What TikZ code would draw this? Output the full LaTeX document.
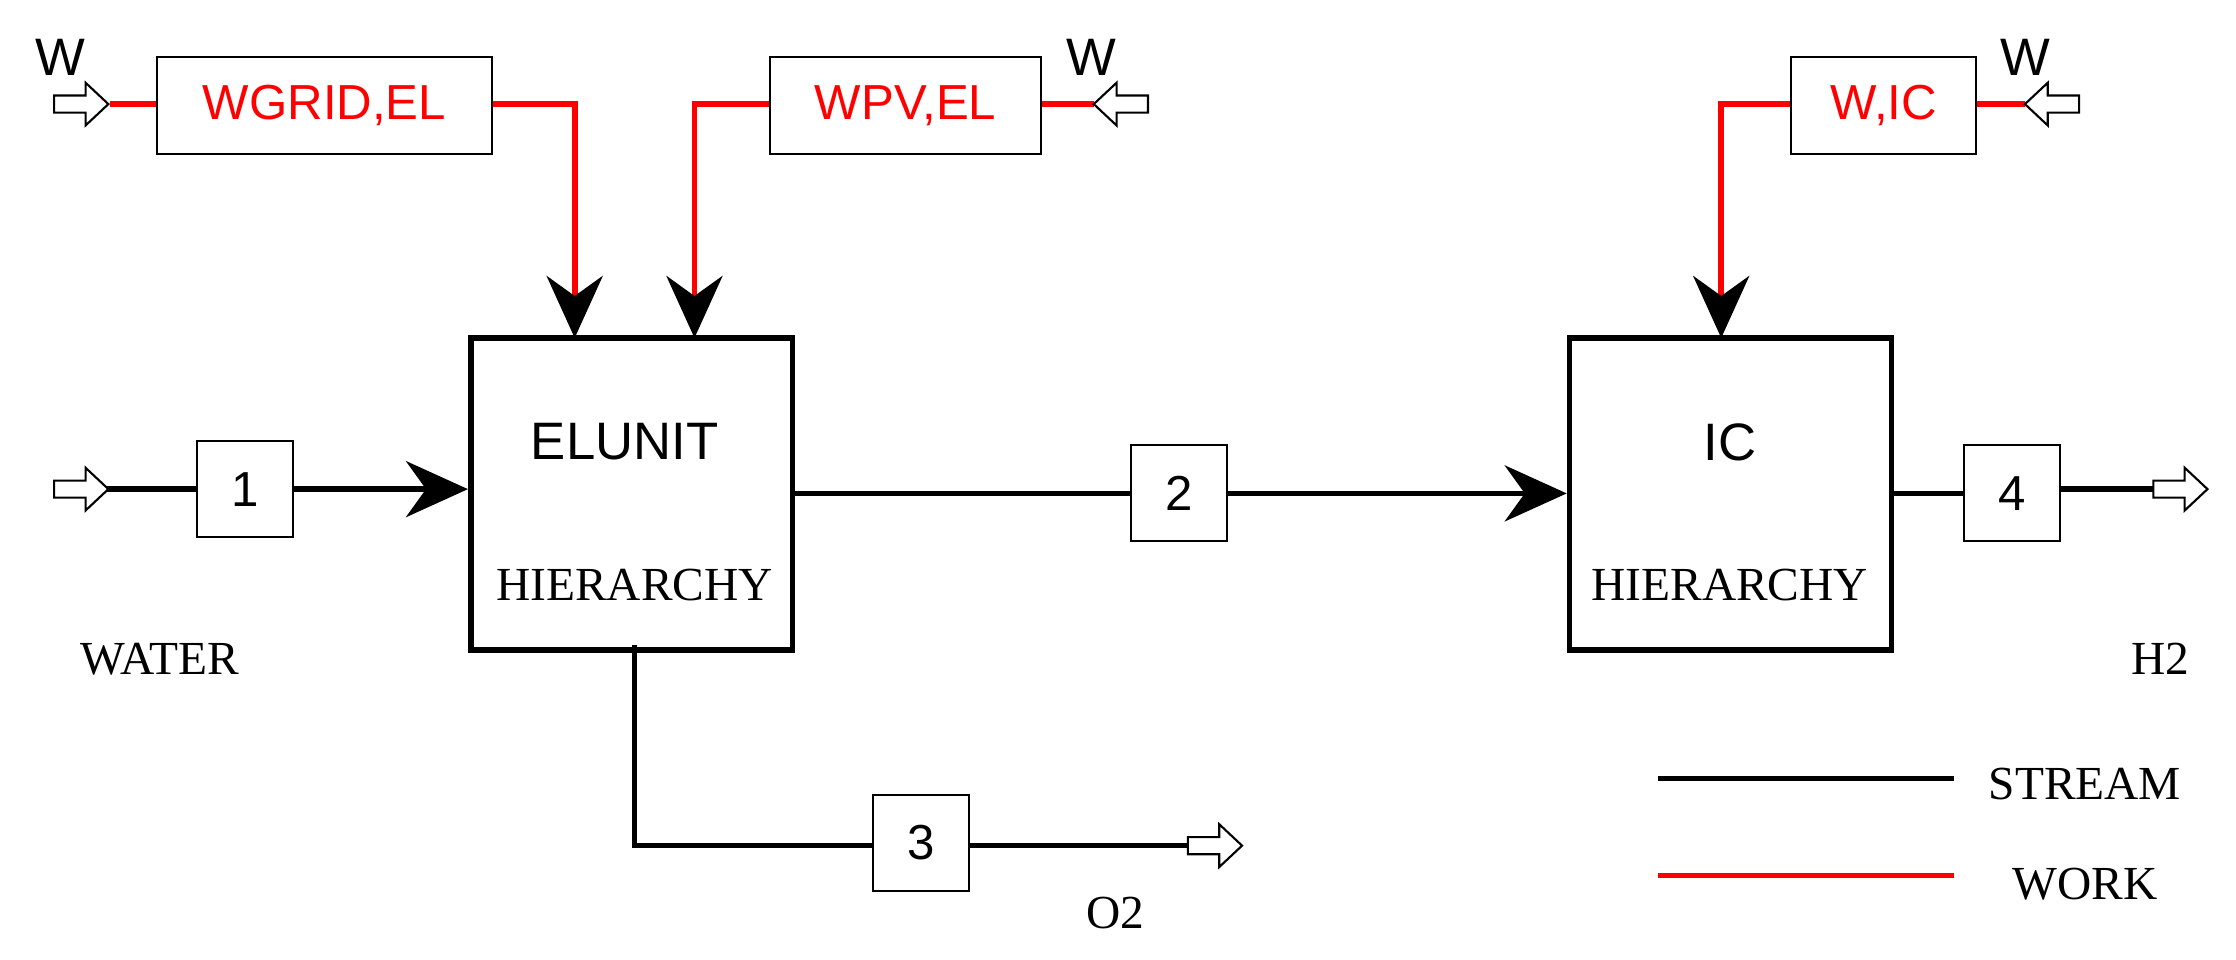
\documentclass[tikz,border=0pt]{standalone}
\usepackage{fontspec}
\setmainfont{Liberation Serif}
\newfontfamily\sansf{Liberation Sans}
\usetikzlibrary{arrows.meta}
\definecolor{wred}{RGB}{255,0,0}
\begin{document}
\begin{tikzpicture}[x=0.01426cm,y=-0.01426cm,
  unit/.style={draw,line width=1.6pt,minimum width=3.22cm,minimum height=3.12cm,inner sep=0},
  lab/.style={draw,line width=0.6pt,fill=white,font=\sansf\fontsize{14}{14}\selectfont,inner sep=0},
  sb/.style={lab,minimum width=0.96cm,minimum height=0.96cm},
  st/.style={line width=1.6pt,black},
  wk/.style={line width=1.6pt,wred},
  big/.style={-{Stealth[length=0.62cm,width=0.56cm,inset=0.2cm,black]}},
  serif/.style={font=\fontsize{13.5}{13.5}\selectfont},
  sans/.style={font=\sansf\fontsize{15}{15}\selectfont},
  oa/.pic={\draw[line width=0.6pt,fill=white] (0,-6)--(22,-6)--(22,-15)--(38,0)--(22,15)--(22,6)--(0,6)--cycle;}]
\useasboundingbox (0,0) rectangle (1568,673);
% units
\node[unit] (el) at (443,346.5) {};
\node[sans] (elt) at (438,310) {ELUNIT};
\node[serif] (elh) at (445,410) {HIERARCHY};
\node[unit] (ic) at (1213.5,346.5) {};
\node[sans] (ict) at (1213,310) {IC};
\node[serif] (ich) at (1213,410) {HIERARCHY};
% stream boxes
\node[sb] (b1) at (172,343) {1};
\node[sb] (b2) at (827,346) {2};
\node[sb] (b4) at (1411,346) {4};
\node[sb] (b3) at (646,591) {3};
% coords
\coordinate (i1) at (75,343);
\coordinate (o4) at (1510,343);
\coordinate (d3) at (445,452);
\coordinate (o3) at (833,593);
% streams
\draw[st] (i1) -- (b1.west);
\draw[st,big] (b1.east) -- (i1 -| el.west);
\draw[st] (el.east |- b2) -- (b2.west);
\draw[st,big] (b2.east) -- (ic.west |- b2);
\draw[st] (ic.east |- b4) -- (b4.west);
\draw[st] (b4.east |- o4) -- (o4);
\draw[st] (d3) |- (b3.west |- o3);
\draw[st] (b3.east |- o3) -- (o3);
\pic at (38,343) {oa};
\pic at (1510,343) {oa};
\pic at (833,593) {oa};
% work boxes
\node[lab,text=wred,minimum width=3.35cm,minimum height=0.97cm] (wg) at (227.5,74) {WGRID,EL};
\node[lab,text=wred,minimum width=2.71cm,minimum height=0.97cm] (wp) at (635,74) {WPV,EL};
\node[lab,text=wred,minimum width=1.85cm,minimum height=0.97cm] (wi) at (1321,74) {W,IC};
\coordinate (wgi) at (77,73);
\coordinate (wpi) at (767,73);
\coordinate (wii) at (1420,73);
\draw[wk] (wgi) -- (wg.west |- wgi);
\draw[wk,big] (wg.east |- wgi) -| (403,237);
\draw[wk,big] (wp.west |- wpi) -| (487,237);
\draw[wk] (wp.east |- wpi) -- (wpi);
\draw[wk,big] (wi.west |- wii) -| (1207,237);
\draw[wk] (wi.east |- wii) -- (wii);
\pic at (38,73) {oa};
\pic[rotate=180] at (805,73) {oa};
\pic[rotate=180] at (1458,73) {oa};
% labels
\node[sans] (w1) at (42,40) {W};
\node[sans] (w2) at (765,40) {W};
\node[sans] (w3) at (1420,40) {W};
\node[serif] (wat) at (112,462) {WATER};
\node[serif] (h2) at (1515,462) {H2};
\node[serif] (o2) at (782,640) {O2};
% legend
\coordinate (l1a) at (1163,546); \coordinate (l1b) at (1370,546);
\coordinate (l2a) at (1163,614); \coordinate (l2b) at (1370,614);
\draw[st] (l1a) -- (l1b);
\draw[wk] (l2a) -- (l2b);
\node[serif] (ls) at (1462,550) {STREAM};
\node[serif] (lw) at (1462,620) {WORK};
\end{tikzpicture}
\end{document}
